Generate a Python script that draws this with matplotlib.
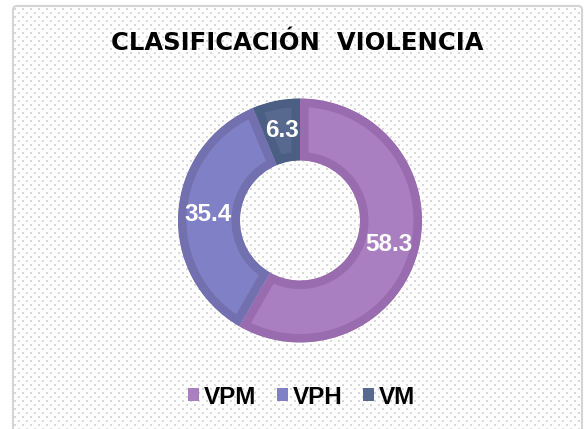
import numpy as np
import matplotlib
matplotlib.use("Agg")
import matplotlib.pyplot as plt
from matplotlib.patches import FancyBboxPatch, Patch

categories = ["VPM", "VPH", "VM"]
values = [58.3, 35.4, 6.3]
title = "CLASIFICACIÓN  VIOLENCIA"

fill_colors = ["#A97FC2", "#8080C6", "#58698F"]
edge_colors = ["#986CAF", "#7270AE", "#4A5F83"]

W, H, DPI = 584, 429, 100
fig = plt.figure(figsize=(W / DPI, H / DPI), dpi=DPI)
fig.patch.set_facecolor("white")

# dotted background texture
bg = np.ones((H, W, 3))
dot = np.array([0.85, 0.85, 0.85])
for r, y in enumerate(range(8, H, 4)):
    off = 0 if r % 2 == 0 else 4
    for x in range(14 + off, W - 3, 8):
        bg[y:y + 2, x:x + 2] = dot
bg[:6, :] = 1
bg[:, :13] = 1
fig.figimage(bg, xo=0, yo=0, origin="upper", zorder=-5)

ax = fig.add_axes([0, 0, 1, 1])
ax.set_zorder(1)
ax.patch.set_alpha(0)

# chart border
border = FancyBboxPatch((13, -20), W - 15, H - 6 + 20, boxstyle="round,pad=0,rounding_size=4",
                        fill=False, edgecolor="#D4D4D4", linewidth=1.5, zorder=1)
ax.add_patch(border)

cx, cy, R = 300, H - 220.5, 122
wedges, texts, autotexts = ax.pie(
    values, colors=fill_colors, startangle=90, counterclock=False,
    center=(cx, cy), radius=R, frame=True,
    wedgeprops=dict(width=R - 60, linewidth=0),
    autopct="%.1f", pctdistance=0.755,
    textprops=dict(color="white", fontsize=17.5, fontweight="bold", family="Liberation Sans"),
)
ax.set_xlim(0, W)
ax.set_ylim(0, H)
ax.set_aspect("equal")
ax.axis("off")

for w, ec in zip(wedges, edge_colors):
    w.set_edgecolor(ec)
    w.set_linewidth(17 * 72 / DPI)
    w.set_clip_on(True)
    w.set_clip_path(w.get_path(), ax.transData)
    w.set_zorder(2)
for t in autotexts:
    t.set_zorder(3)

fig.text(297 / W, 1 - 43.5 / H, title, ha="center", va="center",
         fontsize=17.5, fontweight="bold", family="DejaVu Sans", color="black", zorder=5)

handles = [Patch(facecolor=c, edgecolor="none") for c in fill_colors]
leg = fig.legend(handles, categories, loc="center", bbox_to_anchor=(302 / W, 1 - 397 / H),
                 ncol=3, frameon=False, handlelength=0.45, handleheight=0.45,
                 handletextpad=0.2, columnspacing=0.85,
                 prop=dict(family="Liberation Sans", weight="bold", size=17.5))
leg.set_zorder(5)

fig.savefig("out.png", dpi=DPI)
